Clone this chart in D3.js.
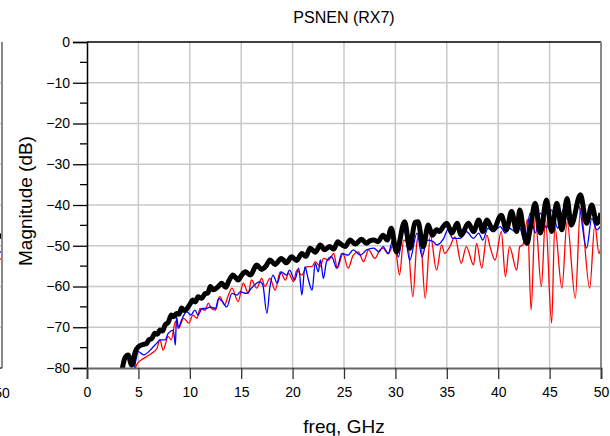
<!DOCTYPE html>
<html lang="en">
<head>
    <meta charset="UTF-8">
    <title>PSNEN (RX7)</title>
    <script src="https://d3js.org/d3.v7.min.js"></script>
    <style>
        body {
            margin: 0;
            padding: 0;
            background: #fff;
            overflow: hidden;
        }
        svg text {
            font-family: 'Liberation Sans', Arial, sans-serif;
            fill: #000;
        }
        .grid line {
            stroke: #c8c8c8;
            stroke-width: 1.5;
        }
    </style>
</head>
<body>
    <div id="chart"></div>

    <script>
        // freq in GHz, magnitude in dB
        const freqTicks = [0, 5, 10, 15, 20, 25, 30, 35, 40, 45, 50];
        const magTicks = [0, -10, -20, -30, -40, -50, -60, -70, -80];
        const magMinorTicks = [-5, -15, -25, -35, -45, -55, -65, -75];

        const blackTrace = [
            [3.3, -82], [3.7, -77.5], [4.0, -76.8], [4.35, -79.3], [4.7, -76], [5.0, -74.8], [5.5, -74.2],
            [5.8, -74.0], [6.0, -73.1], [6.3, -72.8], [6.6, -71.5], [6.85, -71.7], [7.1, -70.7], [7.35, -70.9],
            [7.6, -69.4], [7.9, -68.8], [8.2, -67.0], [8.45, -67.4], [8.7, -66.6], [8.95, -66.8], [9.2, -65.3],
            [9.45, -65.9], [9.7, -65.5], [10.0, -64.4], [10.3, -63.3], [10.55, -63.8], [10.8, -62.5], [11.15, -62.9],
            [11.5, -61.7], [11.75, -61.6], [12.0, -60.0], [12.3, -60.8], [12.6, -60.4], [12.85, -59.8], [13.1, -59.2],
            [13.5, -60.2], [13.8, -58.6], [14.2, -57.2], [14.7, -58.4], [15.0, -57.4], [15.4, -56.4], [15.9, -57.2],
            [16.5, -54.7], [17.0, -55.8], [17.4, -55.0], [17.8, -53.5], [18.3, -54.6], [18.9, -53.1], [19.4, -54.2],
            [19.9, -52.7], [20.4, -53.6], [20.9, -51.9], [21.3, -52.6], [21.7, -50.6], [22.2, -51.6], [22.7, -49.8],
            [23.1, -51.0], [23.6, -50.2], [24.0, -50.8], [24.4, -49.0], [24.6, -49.4], [25.1, -50.2], [25.6, -48.6],
            [26.1, -49.6], [26.7, -48.4], [27.2, -49.4], [27.5, -48.8], [27.9, -48.6], [28.3, -49.0], [28.8, -47.4],
            [29.2, -48.6], [29.6, -45.7], [30.1, -51.5], [30.9, -44.1], [31.4, -50.6], [31.9, -44.3], [32.2, -44.1],
            [32.7, -50.2], [33.2, -44.9], [33.6, -47.4], [34.0, -46.1], [34.3, -46.5], [34.6, -45.5], [35.0, -44.5],
            [35.5, -46.9], [36.0, -44.5], [36.4, -47.4], [37.1, -44.5], [37.6, -46.5], [38.1, -43.7], [38.5, -46.5],
            [38.9, -43.7], [39.5, -46.1], [40.3, -42.5], [40.8, -46.1], [41.3, -41.6], [41.8, -46.5], [42.1, -41.2],
            [42.5, -47.0], [42.8, -49.4], [43.1, -46.0], [43.6, -39.6], [44.1, -46.9], [44.7, -38.8], [45.2, -46.5],
            [45.7, -39.6], [46.2, -46.1], [46.7, -38.4], [47.1, -44.9], [48.0, -37.5], [48.6, -44.5], [49.1, -40.0],
            [49.6, -44.5], [50.0, -42.0]
        ];

        const blueTrace = [
            [4.5, -82], [4.8, -77.5], [5.0, -76], [5.5, -76.8], [6.0, -76], [6.3, -75.2], [6.8, -73.9], [7.1, -73.1],
            [7.6, -73.1], [7.9, -71.5], [8.4, -70.7], [8.6, -74.4], [8.7, -67.4], [8.9, -70], [9.2, -68.2], [9.7, -66.2],
            [10.1, -67], [10.5, -65.8], [10.8, -67], [11.2, -65.4], [11.6, -65.4], [12.0, -65], [12.5, -65.4],
            [12.8, -62.9], [13.1, -63.5], [13.6, -65], [14.1, -61.7], [14.6, -62.1], [14.9, -61.3], [15.5, -61.7],
            [16.0, -60.4], [16.3, -59.6], [16.8, -58.8], [17.1, -59.6], [17.5, -66.6], [17.8, -60], [18.1, -57.2],
            [18.5, -59.2], [18.9, -56.4], [19.4, -57.2], [19.7, -56], [20.2, -58.4], [20.6, -55.5], [20.9, -62.1],
            [21.2, -55.1], [21.5, -58], [21.9, -60.9], [22.2, -54.3], [22.5, -56.4], [22.7, -53.5], [23.0, -58],
            [23.3, -53.9], [23.8, -52.7], [24.3, -55.5], [24.8, -51.9], [25.4, -52.3], [25.9, -51.0], [26.6, -52.3],
            [27.2, -51], [27.9, -50.6], [28.4, -51.5], [28.8, -50.2], [29.3, -51.9], [29.8, -48.2], [30.3, -52.7],
            [30.8, -45.7], [31.4, -53.5], [32.1, -46.9], [32.6, -52.7], [33.0, -49], [33.2, -48.6], [33.7, -49],
            [34.0, -49.8], [34.7, -48.2], [35.1, -46.1], [35.6, -48.2], [36.3, -48.2], [36.9, -46.5], [37.6, -48.2],
            [38.1, -46.9], [38.5, -48.6], [39.0, -45.7], [39.5, -46.5], [40.2, -45.3], [40.7, -46.9], [41.1, -45.7],
            [41.6, -46.5], [42.1, -45.7], [42.6, -49.4], [43.1, -42], [43.6, -46.9], [44.1, -42], [44.7, -45.7],
            [45.2, -41.2], [45.8, -45.7], [46.3, -41.2], [47.0, -44.5], [47.8, -40], [48.6, -50.6], [49.1, -43.3],
            [49.6, -46.1], [50.0, -45]
        ];

        const redTrace = [
            [4.6, -82], [4.8, -79.3], [5.3, -78], [5.8, -77.2], [6.3, -76.4], [6.8, -75.2], [7.1, -73.1], [7.4, -75.6],
            [7.9, -72.3], [8.2, -73.1], [8.6, -68.6], [8.9, -70.3], [9.4, -67.8], [9.9, -69], [10.3, -67], [10.7, -67.8],
            [11.0, -65.4], [11.5, -65.8], [11.8, -64.1], [12.1, -65.4], [12.5, -65.8], [12.9, -62.5], [13.4, -64.5],
            [13.7, -62.5], [14.1, -60.4], [14.7, -63.7], [15.2, -59.2], [15.7, -61.7], [16.0, -58.4], [16.5, -60.4],
            [17.0, -58], [17.3, -60], [17.8, -58], [18.3, -60.9], [18.8, -56.4], [19.3, -58.4], [19.6, -56.8],
            [20.1, -58.8], [20.4, -56], [20.9, -57.2], [21.4, -55.1], [21.9, -55.1], [22.2, -53.9], [22.7, -55.1],
            [23.0, -53.1], [23.5, -53.5], [24.0, -51.9], [24.35, -55.5], [24.9, -51.9], [25.4, -55.5], [25.9, -52.3],
            [26.4, -51.5], [26.9, -53.9], [27.4, -51], [28.0, -53.1], [28.5, -51], [28.8, -50.6], [29.3, -52],
            [29.8, -49.8], [30.0, -50.5], [30.4, -57.2], [30.8, -48.6], [31.2, -49.5], [31.7, -62.5], [32.1, -49],
            [32.4, -47], [32.9, -62.9], [33.4, -47.4], [34.0, -56], [34.5, -49.8], [34.8, -51.9], [35.3, -50.2],
            [35.8, -47.8], [36.4, -54.3], [36.9, -50.2], [37.6, -54.7], [37.9, -49.4], [38.4, -55.5], [38.9, -47.4],
            [39.2, -50.2], [39.7, -53.5], [40.3, -46.5], [40.7, -57.6], [41.1, -50.2], [41.8, -56], [42.1, -50.2],
            [42.4, -49.8], [42.85, -43.5], [43.2, -65.8], [43.6, -42.9], [44.2, -60], [44.6, -43.3], [45.2, -69],
            [45.5, -45.3], [46.2, -60.4], [46.7, -44.1], [47.5, -62.9], [48.0, -40.8], [48.9, -60.4], [49.4, -44.9],
            [49.8, -51.9], [50.0, -50]
        ];

        // tail ends of the neighbouring plot that pokes in at the left edge
        const leftStubFreq = [49.3, 50];
        const leftStubBlack = [-47, -47.8];
        const leftStubBlue = [-51.2, -51.6];
        const leftStubRed = [-53.5, -53.2];

        const width = 610, height = 436;
        const margin = { left: 87, right: 9, top: 42, bottom: 68 };

        const svg = d3.select('#chart')
            .append('svg')
            .attr('width', width)
            .attr('height', height);

        const x = d3.scaleLinear().domain([0, 50]).range([margin.left, width - margin.right]);
        const y = d3.scaleLinear().domain([-80, 0]).range([height - margin.bottom, margin.top]);

        svg.append('defs').append('clipPath')
            .attr('id', 'plotClip')
            .append('rect')
            .attr('x', x(0))
            .attr('y', y(0))
            .attr('width', x(50) - x(0))
            .attr('height', y(-80) - y(0));

        // grid
        const grid = svg.append('g').attr('class', 'grid');
        grid.selectAll('.vgrid')
            .data(freqTicks.slice(1, -1))
            .join('line')
            .attr('x1', d => x(d)).attr('x2', d => x(d))
            .attr('y1', y(0)).attr('y2', y(-80));
        grid.selectAll('.hgrid')
            .data(magTicks.slice(1, -1))
            .join('line')
            .attr('x1', x(0)).attr('x2', x(50))
            .attr('y1', d => y(d)).attr('y2', d => y(d));

        // neighbouring chart edge on the far left
        const xLeft = d3.scaleLinear().domain([0, 50]).range([-510, 2]);
        const leftGroup = svg.append('g');
        leftGroup.selectAll('line.lg')
            .data(magTicks.slice(1, -1))
            .join('line')
            .attr('x1', 0).attr('x2', 2)
            .attr('y1', d => y(d)).attr('y2', d => y(d))
            .attr('stroke', '#c8c8c8').attr('stroke-width', 1.5);
        const stub = d3.line()
            .x((d, i) => xLeft(leftStubFreq[i]))
            .y(d => y(d));
        leftGroup.append('path').attr('d', stub(leftStubRed))
            .attr('fill', 'none').attr('stroke', '#ff0000').attr('stroke-width', 1.3);
        leftGroup.append('path').attr('d', stub(leftStubBlue))
            .attr('fill', 'none').attr('stroke', '#0000ff').attr('stroke-width', 1.3);
        leftGroup.append('path').attr('d', stub(leftStubBlack))
            .attr('fill', 'none').attr('stroke', '#000').attr('stroke-width', 5);
        leftGroup.append('line')
            .attr('x1', xLeft(50)).attr('x2', xLeft(50))
            .attr('y1', y(0)).attr('y2', y(-80))
            .attr('stroke', '#888').attr('stroke-width', 2);
        leftGroup.append('line')
            .attr('x1', 0).attr('x2', xLeft(50))
            .attr('y1', y(-80)).attr('y2', y(-80))
            .attr('stroke', '#666').attr('stroke-width', 2);
        leftGroup.append('text')
            .attr('x', xLeft(50)).attr('y', 398)
            .attr('text-anchor', 'middle')
            .attr('font-size', 14)
            .text('50');

        // traces
        const line = d3.line()
            .x(d => x(d[0]))
            .y(d => y(d[1]))
            .curve(d3.curveMonotoneX);

        const traces = svg.append('g').attr('clip-path', 'url(#plotClip)');
        traces.append('path').datum(redTrace)
            .attr('d', line).attr('fill', 'none')
            .attr('stroke', '#ff0000').attr('stroke-width', 1.3);
        traces.append('path').datum(blueTrace)
            .attr('d', line).attr('fill', 'none')
            .attr('stroke', '#0000ff').attr('stroke-width', 1.3);
        traces.append('path').datum(blackTrace)
            .attr('d', line).attr('fill', 'none')
            .attr('stroke', '#000').attr('stroke-width', 5)
            .attr('stroke-linejoin', 'round');

        // frame
        svg.append('line')
            .attr('x1', x(0)).attr('x2', x(50))
            .attr('y1', y(0)).attr('y2', y(0))
            .attr('stroke', '#000').attr('stroke-width', 1.5);
        svg.append('line')
            .attr('x1', x(50)).attr('x2', x(50))
            .attr('y1', y(0)).attr('y2', y(-80))
            .attr('stroke', '#888').attr('stroke-width', 2);

        // y axis
        const yAxis = svg.append('g')
            .attr('transform', `translate(${x(0)},0)`)
            .call(d3.axisLeft(y).tickValues(magTicks).tickSize(14).tickPadding(3));
        yAxis.select('.domain').attr('stroke', '#000').attr('stroke-width', 1.5);
        yAxis.selectAll('.tick line').attr('stroke', '#000').attr('stroke-width', 1.3);
        yAxis.selectAll('.tick text')
            .attr('font-size', 14)
            .attr('font-family', "'Liberation Sans', Arial, sans-serif");

        svg.append('g').selectAll('line')
            .data(magMinorTicks)
            .join('line')
            .attr('x1', x(0) - 7).attr('x2', x(0))
            .attr('y1', d => y(d)).attr('y2', d => y(d))
            .attr('stroke', '#000').attr('stroke-width', 1.3);

        // x axis
        const xAxis = svg.append('g')
            .attr('transform', `translate(0,${y(-80)})`)
            .call(d3.axisBottom(x).tickValues(freqTicks).tickSize(11).tickPadding(8));
        xAxis.select('.domain').attr('stroke', '#666').attr('stroke-width', 2);
        xAxis.selectAll('.tick line').attr('stroke', '#333').attr('stroke-width', 1.3);
        xAxis.selectAll('.tick text')
            .attr('font-size', 14)
            .attr('font-family', "'Liberation Sans', Arial, sans-serif");

        // labels
        svg.append('text')
            .attr('x', (x(0) + x(50)) / 2)
            .attr('y', 23)
            .attr('text-anchor', 'middle')
            .attr('font-size', 16)
            .text('PSNEN (RX7)');

        svg.append('text')
            .attr('x', (x(0) + x(50)) / 2)
            .attr('y', 433)
            .attr('text-anchor', 'middle')
            .attr('font-size', 19)
            .text('freq, GHz');

        svg.append('text')
            .attr('transform', `translate(32,${(y(0) + y(-80)) / 2 - 4}) rotate(-90)`)
            .attr('text-anchor', 'middle')
            .attr('font-size', 19)
            .text('Magnitude (dB)');
    </script>
</body>
</html>
